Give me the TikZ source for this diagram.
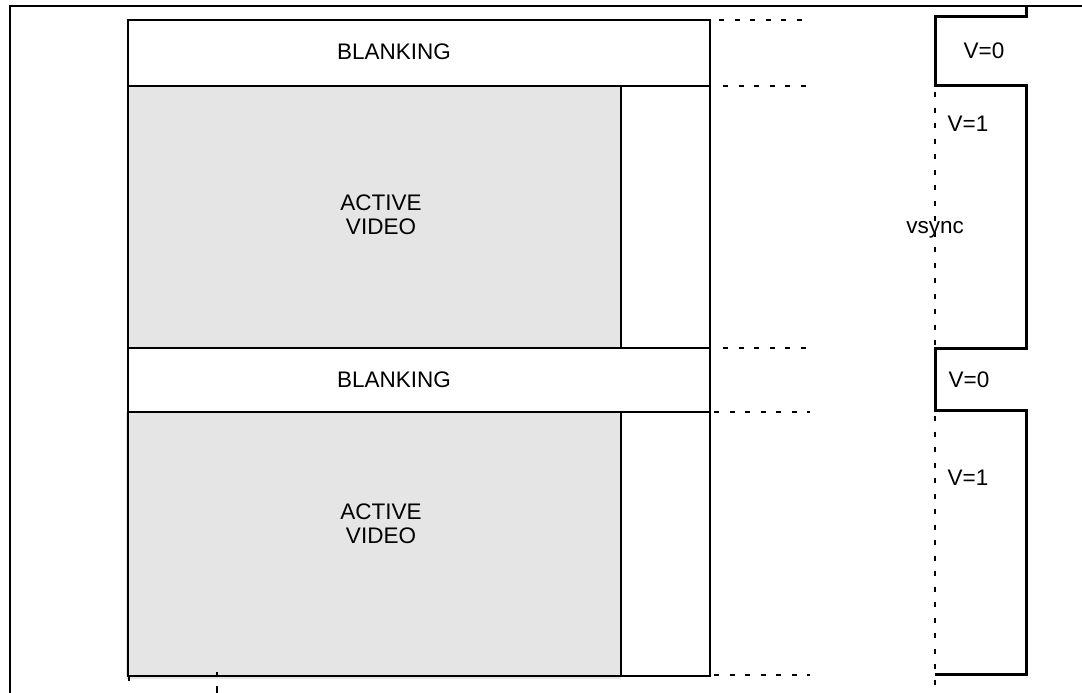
\documentclass[tikz,border=0pt]{standalone}
\usepackage{fontspec}
\setmainfont{Liberation Sans}
\definecolor{avgray}{HTML}{E5E5E5}
\begin{document}
\begin{tikzpicture}[x=1pt,y=-1pt,
  box/.style={line width=2.3pt},
  frameline/.style={line width=2.6pt},
  lbl/.style={font=\fontsize{22.5}{24}\selectfont, inner sep=0pt, align=center},
  guide/.style={line width=2pt, dash pattern=on 5pt off 10.5pt},
  wave/.style={line width=3pt, line join=miter},
  tick/.style={line width=2pt}]
\useasboundingbox (0,0) rectangle (1082,693);
% outer frame
\coordinate (fbl) at (10,693);
\coordinate (ftl) at (10,6);
\coordinate (ftr) at (1082,6);
\draw[frameline] (fbl) -- (ftl) -- (ftr);
% gray fills
\fill[avgray] (128,86) rectangle (621,348);
\fill[avgray] (126,412) rectangle (621,679);
% boxes
\draw[box] (128,20) rectangle (710,86);
\draw[box] (128,86) rectangle (621,348);
\draw[box] (621,86) rectangle (710,348);
\draw[box] (128,348) rectangle (710,412);
\draw[box] (128,412) rectangle (621,676);
\draw[box] (621,412) rectangle (710,676);
% small ticks at the bottom
\draw[tick] (129,676) -- (129,681);
\draw[tick] (217,672) -- (217,677);
\draw[tick] (217,686) -- (217,693);
% horizontal guides
\draw[guide] (719,20) -- (803,20);
\draw[guide] (723,86) -- (808,86);
\draw[guide] (723,348) -- (808,348);
\draw[guide] (714,412) -- (810,412);
\draw[guide] (714,675) -- (810,675);
% vertical guide
\draw[guide] (935,92) -- (935,348);
\draw[guide] (935,416) -- (935,693);
% vsync waveform
\draw[wave] (1026,6) -- (1026,17) -- (935,17) -- (935,86) -- (1026,86)
  -- (1026,348) -- (935,348) -- (935,410) -- (1026,410) -- (1026,674) -- (935,674);
% labels
\node[lbl] (b1) at (394,52) {BLANKING};
\node[lbl] (a1) at (381,215) {ACTIVE\\VIDEO};
\node[lbl] (b2) at (394,380) {BLANKING};
\node[lbl] (a2) at (381,524) {ACTIVE\\VIDEO};
\node[lbl] (v0a) at (984,51) {V=0};
\node[lbl] (v1a) at (968,124) {V=1};
\node[lbl] (vs) at (935,230) {vsync};
\node[lbl] (v0b) at (969,380) {V=0};
\node[lbl] (v1b) at (968,478) {V=1};
\end{tikzpicture}
\end{document}
